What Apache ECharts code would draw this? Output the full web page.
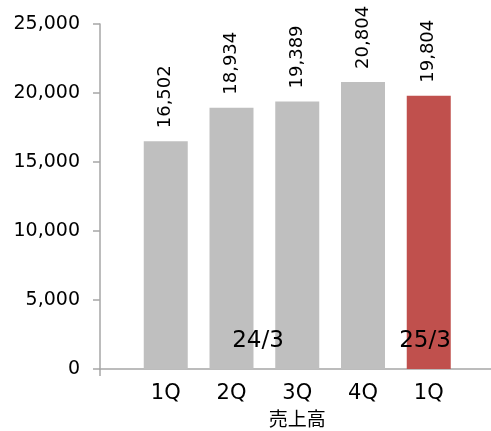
<!DOCTYPE html>
<html>
<head>
<meta charset="utf-8">
<script src="https://cdn.jsdelivr.net/npm/echarts@6/dist/echarts.min.js"></script>
<style>
  html, body { margin: 0; padding: 0; background: #fff; }
  #chart { width: 491px; height: 431px; }
</style>
</head>
<body>
<div id="chart"></div>
<script>
// 四半期（先頭と末尾は空の位置合わせ用）
const categories = ["", "1Q", "2Q", "3Q", "4Q", "1Q", ""];
const sales = ["-", 16502, 18934, 19389, 20804, 19804, "-"];
const barColors = ["#BFBFBF", "#BFBFBF", "#BFBFBF", "#BFBFBF", "#BFBFBF", "#C0504D", "#BFBFBF"];
const periodLabels = ["24/3", "25/3"];
const yTicks = { min: 0, max: 25000, interval: 5000 };

const FONT = "'DejaVu Sans', 'Noto Sans CJK JP', sans-serif";
const fmt = (v) => String(v).replace(/\B(?=(\d{3})+(?!\d))/g, ",");

const myChart = echarts.init(document.getElementById("chart"));

const option = {
  animation: false,
  grid: {
    left: 100,
    top: 24,
    width: 394.5,
    height: 345,
    containLabel: false,
    outerBoundsMode: "none",
  },
  xAxis: {
    type: "category",
    data: categories,
    boundaryGap: false,
    name: "売上高",
    nameLocation: "middle",
    nameGap: 43,
    nameTextStyle: { fontSize: 19, color: "#000", fontFamily: FONT },
    axisLine: { lineStyle: { color: "#A6A6A6", width: 1.5 } },
    axisTick: {
      show: true,
      length: 7,
      interval: (idx) => idx === 0,
      lineStyle: { color: "#A6A6A6", width: 1.5 },
    },
    axisLabel: {
      interval: 0,
      margin: 14,
      fontSize: 21,
      color: "#000",
      fontFamily: FONT,
    },
    splitLine: { show: false },
  },
  yAxis: {
    type: "value",
    min: yTicks.min,
    max: yTicks.max,
    interval: yTicks.interval,
    axisLine: { show: true, lineStyle: { color: "#A6A6A6", width: 1.5 } },
    axisTick: { show: true, length: 7, lineStyle: { color: "#A6A6A6", width: 1.5 } },
    axisLabel: {
      margin: 20,
      fontSize: 19,
      color: "#000",
      fontFamily: FONT,
      formatter: (v) => fmt(v),
    },
    splitLine: { show: false },
  },
  series: [
    {
      type: "bar",
      barWidth: 44,
      data: sales.map((v, i) => ({ value: v, itemStyle: { color: barColors[i] } })),
      label: {
        show: true,
        position: "top",
        rotate: 90,
        align: "left",
        verticalAlign: "middle",
        distance: 13,
        fontSize: 18,
        color: "#000",
        fontFamily: FONT,
        formatter: (p) => fmt(p.value),
      },
    },
  ],
  graphic: [
    {
      type: "text",
      x: 258,
      y: 341,
      style: {
        text: periodLabels[0],
        fontSize: 23,
        fill: "#000",
        fontFamily: FONT,
        align: "center",
        verticalAlign: "middle",
      },
      z: 100,
    },
    {
      type: "text",
      x: 425,
      y: 341,
      style: {
        text: periodLabels[1],
        fontSize: 23,
        fill: "#000",
        fontFamily: FONT,
        align: "center",
        verticalAlign: "middle",
      },
      z: 100,
    },
  ],
};

myChart.setOption(option);
</script>
</body>
</html>
